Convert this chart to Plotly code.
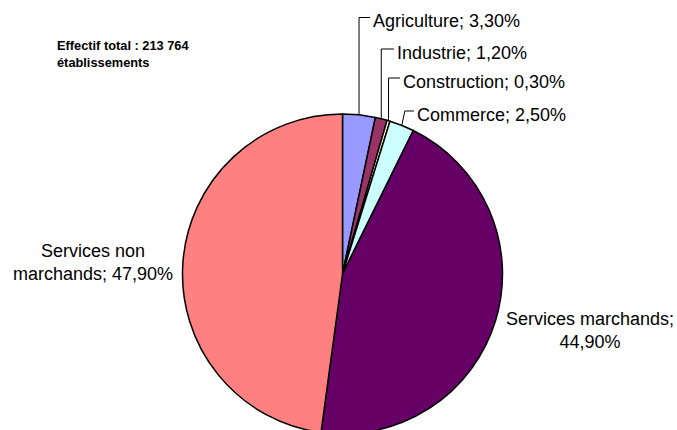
import math
import plotly.graph_objects as go

# Répartition des établissements par secteur (%)
secteurs = ["Agriculture", "Industrie", "Construction", "Commerce",
            "Services marchands", "Services non marchands"]
parts = [3.3, 1.2, 0.3, 2.5, 44.9, 47.9]
couleurs = ["#9999FF", "#993366", "#FFFFCC", "#CCFFFF", "#660066", "#FF8080"]
titre = "Effectif total : 213 764<br>établissements"

W, H = 677, 440
CX, CY, R = 342.5, 274.0, 160.0


def px(x):
    return x / W


def py(y):
    return 1 - y / H


def etiquette(nom, v, sep="; "):
    return f"{nom}{sep}{v:.2f}".replace(".", ",") + "%"


fig = go.Figure(go.Pie(
    labels=secteurs,
    values=parts,
    sort=False,
    direction="clockwise",
    rotation=0,
    marker=dict(colors=couleurs, line=dict(color="black", width=1.5)),
    textinfo="none",
    hoverinfo="label+percent",
    showlegend=False,
    domain=dict(x=[px(CX - R), px(CX + R)], y=[py(CY + R), py(CY - R)]),
))

font_lbl = dict(family="Liberation Sans, Arial, sans-serif", size=18, color="black")

# Étiquettes des petits secteurs, reliées par un trait coudé
petits = {
    # nom: (y du texte, x début du texte, décalage du coude)
    "Agriculture": (21.5, 371, 0),
    "Industrie": (53, 395, 0),
    "Construction": (82, 401, 0),
    "Commerce": (115, 415, 3),
}

total = sum(parts)
cumul = 0.0
shapes = []
annotations = []
for nom, v in zip(secteurs, parts):
    mid = (cumul + v / 2) / total * 2 * math.pi
    cumul += v
    if nom not in petits:
        continue
    ty, tx, dx = petits[nom]
    ex = CX + R * math.sin(mid)
    ey = CY - R * math.cos(mid)
    ly = ty - 4
    path = (f"M {px(ex)} {py(ey)} L {px(ex + dx)} {py(ly)} "
            f"L {px(tx - 1)} {py(ly)}")
    shapes.append(dict(type="path", xref="paper", yref="paper", path=path,
                       line=dict(color="black", width=1)))
    annotations.append(dict(x=px(tx), y=py(ty), xref="paper", yref="paper",
                            text=etiquette(nom, v), showarrow=False,
                            xanchor="left", yanchor="middle", font=font_lbl))

# Étiquettes des deux grands secteurs
annotations.append(dict(x=px(93), y=py(262), xref="paper", yref="paper",
                        text=etiquette("Services non<br>marchands", parts[5]),
                        showarrow=False, xanchor="center", yanchor="middle",
                        align="center", font=font_lbl))
annotations.append(dict(x=px(590), y=py(330), xref="paper", yref="paper",
                        text=etiquette("Services marchands;<br>", parts[4], sep=""),
                        showarrow=False, xanchor="center", yanchor="middle",
                        align="center", font=font_lbl))

annotations.append(dict(x=px(55), y=py(53.5), xref="paper", yref="paper",
                        text=f"<b>{titre}</b>", showarrow=False,
                        xanchor="left", yanchor="middle", align="left",
                        font=dict(family="Liberation Sans, Arial, sans-serif",
                                  size=12.8, color="black")))

fig.update_layout(
    width=W, height=H,
    margin=dict(l=0, r=0, t=0, b=0),
    paper_bgcolor="white",
    plot_bgcolor="white",
    shapes=shapes,
    annotations=annotations,
)

fig.write_html(
    "out.html",
    post_script="document.body.style.margin='0';document.body.style.overflow='hidden';"
                "document.documentElement.style.overflow='hidden';",
)
